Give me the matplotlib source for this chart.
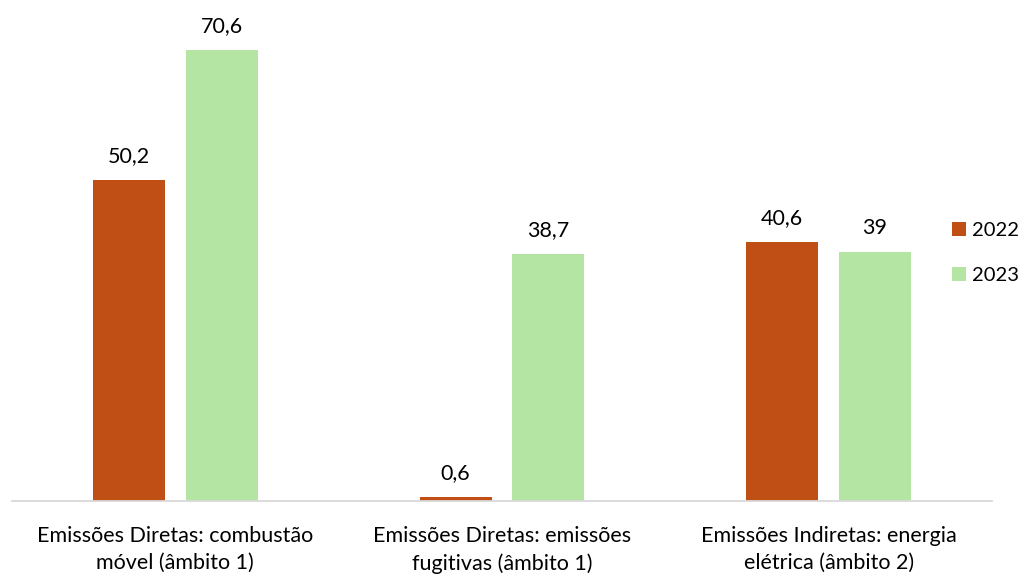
import matplotlib.pyplot as plt
import numpy as np

plt.rcParams['font.family'] = ['Lato', 'DejaVu Sans']

categories = ['Emissões Diretas: combustão\nmóvel (âmbito 1)',
              'Emissões Diretas: emissões\nfugitivas (âmbito 1)',
              'Emissões Indiretas: energia\nelétrica (âmbito 2)']
values_2022 = [50.2, 0.6, 40.6]
values_2023 = [70.6, 38.7, 39.0]
labels_2022 = ['50,2', '0,6', '40,6']
labels_2023 = ['70,6', '38,7', '39']

fig = plt.figure(figsize=(10.24, 5.74), dpi=100)
ax = fig.add_axes([12 / 1024, 1 - 501 / 574, 980 / 1024, 501 / 574])

x = np.arange(len(categories))
w = 0.22
off = 0.142
b1 = ax.bar(x - off, values_2022, w, color='#C04F15', label='2022')
b2 = ax.bar(x + off, values_2023, w, color='#B4E5A2', label='2023')

for bars, labs in [(b1, labels_2022), (b2, labels_2023)]:
    for b, t in zip(bars, labs):
        ax.annotate(t, (b.get_x() + b.get_width() / 2, b.get_height()),
                    xytext=(0, 10), textcoords='offset points',
                    ha='center', va='bottom', fontsize=15.5, color='#000000')

ax.set_xlim(-0.5, 2.5)
ax.set_ylim(0, 78.4)
ax.set_xticks(x)
ax.set_xticklabels(categories, fontsize=15.5, linespacing=1.45)
ax.tick_params(axis='x', length=0, pad=18)
ax.set_yticks([])
for s in ['top', 'right', 'left']:
    ax.spines[s].set_visible(False)
ax.spines['bottom'].set_color('#D9D9D9')
ax.spines['bottom'].set_linewidth(1.3)

fig.legend(handles=[b1, b2], loc='center left', bbox_to_anchor=(952 / 1024, 1 - 253 / 574),
           frameon=False, fontsize=14.5, handlelength=0.7, handleheight=0.7,
           handletextpad=0.3, labelspacing=1.4, borderpad=0, borderaxespad=0)

fig.savefig('out.png', dpi=100)
